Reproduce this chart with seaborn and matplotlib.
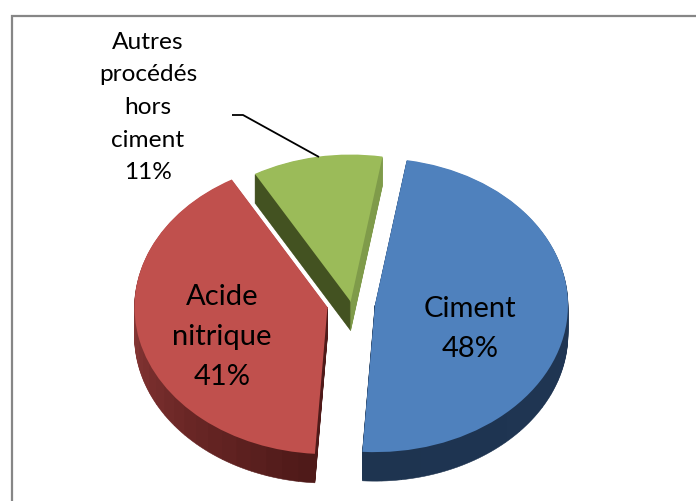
import matplotlib
matplotlib.use("Agg")
import matplotlib.pyplot as plt
from matplotlib.lines import Line2D
import numpy as np
import seaborn as sns

categories = ["Ciment", "Acide\nnitrique", "Autres\nprocédés\nhors\nciment"]
shares = [48.4, 40.7, 10.9]
explode = [0.125, 0.125, 0.01]
top_colors = ["#4f81bd", "#c0504d", "#9bbb59"]
side_ramps = [["#2a4970", "#1f3553", "#1e3450"],
              ["#4f1a19", "#6f2928", "#8f3c3a", "#9a4240"],
              ["#435221", "#7f9b4a"]]
side_steps = [30, 30, 2]

sns.set_theme(style="white")
plt.rcParams["font.family"] = ["Lato", "DejaVu Sans"]

W, H = 696, 501
CX, CY, RX, RY, DEPTH = 351.0, 303.0, 193.0, 147.0, 29
START = 80.5
FONT_BIG, FONT_SMALL = 21, 17.6

fig = plt.figure(figsize=(W / 100, H / 100), dpi=100, facecolor="white")
ax = fig.add_axes([0, 0, 1, 1])


def px(x, y):
    return (x - CX) / RX, (CY - y) / RY


starts = START - np.cumsum([0] + shares[:-1]) * 3.6
spans = np.array(shares) * 3.6

# back to front: green, red, blue
for i in [2, 1, 0]:
    bis = np.deg2rad(starts[i] - spans[i] / 2)
    c = np.array([explode[i] * np.cos(bis), explode[i] * np.sin(bis)])
    n = side_steps[i]
    ramp = sns.blend_palette(side_ramps[i], n)
    for k in range(DEPTH, 0, -1):
        wedges, _ = ax.pie([shares[i] / 100 / n] * n, startangle=starts[i], counterclock=False,
                           normalize=False, colors=ramp, center=(c[0], c[1] - k / RY), radius=1,
                           wedgeprops=dict(linewidth=0.4))
        for w in wedges:
            w.set_edgecolor(w.get_facecolor())
    ax.pie([shares[i] / 100], startangle=starts[i], counterclock=False,
           normalize=False, colors=[top_colors[i]], center=tuple(c), radius=1,
           wedgeprops=dict(linewidth=0))

ax.set_aspect("auto")
ax.set_xlim(px(0, 0)[0], px(W, 0)[0])
ax.set_ylim(px(0, H)[1], px(0, 0)[1])
ax.axis("off")

labels = [f"{c}\n{s:.0f}%" for c, s in zip(categories, shares)]
ax.text(*px(470, 329), labels[0], ha="center", va="center", fontsize=FONT_BIG,
        color="black", linespacing=1.65)
ax.text(*px(222, 337), labels[1], ha="center", va="center", fontsize=FONT_BIG,
        color="black", linespacing=1.65)
ax.text(*px(148, 107.5), labels[2], ha="center", va="center", fontsize=FONT_SMALL,
        color="black", linespacing=1.69)

lx, ly = zip(px(232, 115), px(243, 115), px(319, 157))
ax.plot(lx, ly, color="black", lw=1.3, solid_capstyle="butt")

fx = 11.5 / W
fy = 1 - 15.5 / H
fig.add_artist(Line2D([fx, fx, 1], [0, fy, fy], transform=fig.transFigure,
                      color="#868686", lw=1.6, solid_joinstyle="miter"))

fig.savefig("out.png", dpi=100, facecolor="white")
